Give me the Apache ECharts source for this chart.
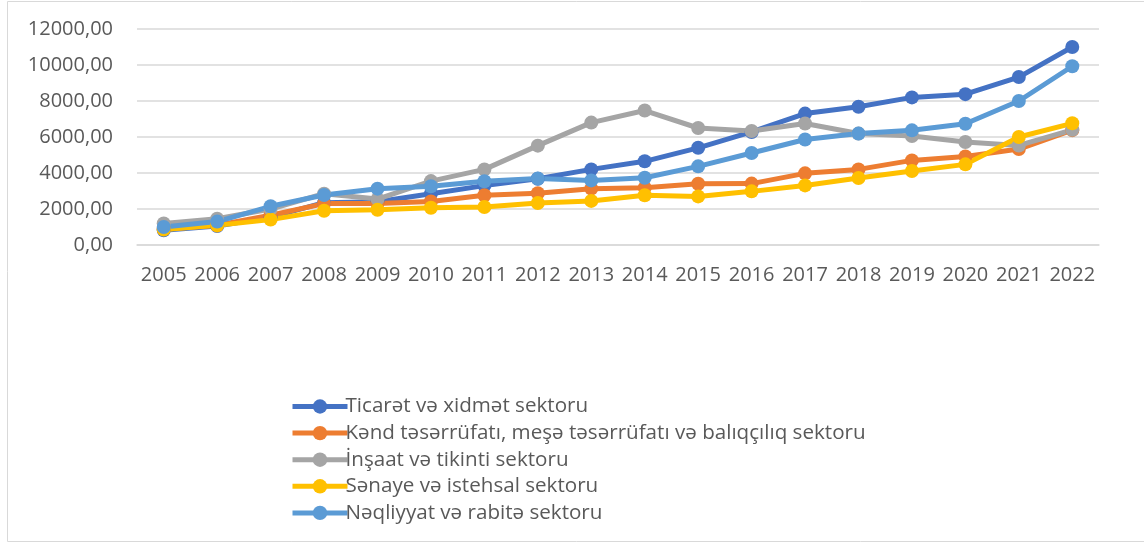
<!DOCTYPE html>
<html>
<head>
<meta charset="utf-8">
<script src="https://cdn.jsdelivr.net/npm/echarts@6/dist/echarts.min.js"></script>
<style>
  html, body { margin: 0; padding: 0; background: #fff; }
  #chart { width: 1144px; height: 543px; }
</style>
</head>
<body>
<div id="chart"></div>
<script>
const years = ['2005','2006','2007','2008','2009','2010','2011','2012','2013','2014','2015','2016','2017','2018','2019','2020','2021','2022']

const seriesNames = [
  'Ticarət və xidmət sektoru',
  'Kənd təsərrüfatı, meşə təsərrüfatı və balıqçılıq sektoru',
  'İnşaat və tikinti sektoru',
  'Sənaye və istehsal sektoru',
  'Nəqliyyat və rabitə sektoru'
]

const ticaret = [820, 1050, 1550, 2350, 2400, 2850, 3300, 3680, 4200, 4650, 5400, 6280, 7300, 7680, 8200, 8380, 9330, 11000]
const kend = [880, 1100, 1650, 2300, 2300, 2420, 2760, 2880, 3130, 3180, 3400, 3410, 3980, 4200, 4700, 4920, 5330, 6380]
const insaat = [1200, 1460, 2000, 2850, 2550, 3550, 4200, 5520, 6800, 7470, 6500, 6330, 6750, 6190, 6050, 5720, 5530, 6400]
const senaye = [860, 1090, 1410, 1900, 1960, 2070, 2110, 2330, 2450, 2760, 2700, 2980, 3310, 3720, 4110, 4480, 6000, 6760]
const neqliyyat = [1000, 1300, 2150, 2780, 3130, 3260, 3540, 3690, 3590, 3740, 4370, 5110, 5860, 6190, 6370, 6740, 8000, 9930]

const colors = ['#4472C4', '#ED7D31', '#A5A5A5', '#FFC000', '#5B9BD5']
const font = '"Open Sans", sans-serif'

const allData = [ticaret, kend, insaat, senaye, neqliyyat]
let series = []
allData.forEach((item, i) => {
  series.push({
    name: seriesNames[i],
    type: 'line',
    data: item,
    symbol: 'circle',
    symbolSize: 14,
    lineStyle: { width: 5, color: colors[i] },
    itemStyle: { color: colors[i] }
  })
})

const myChart = echarts.init(document.getElementById('chart'), null, { renderer: 'canvas' })
const option = {
  animation: false,
  color: colors,
  textStyle: { fontFamily: font },
  graphic: [{
    type: 'rect',
    shape: { x: 7.5, y: 1.5, width: 1150, height: 540 },
    style: { fill: 'none', stroke: '#D9D9D9', lineWidth: 1 },
    silent: true
  }],
  legend: {
    orient: 'vertical',
    left: 285,
    top: 391,
    itemWidth: 55,
    itemHeight: 18,
    itemGap: 5.6,
    lineStyle: { width: 5 },
    textStyle: { fontFamily: font, fontSize: 20.6, color: '#595959', lineHeight: 18, padding: [0, 0, 0, -7] },
    data: seriesNames
  },
  grid: {
    left: 137,
    right: 45,
    top: 29,
    bottom: 298,
    containLabel: false
  },
  xAxis: {
    type: 'category',
    data: years,
    boundaryGap: true,
    axisLine: { show: true, lineStyle: { color: '#D9D9D9', width: 1.5 } },
    axisTick: { show: false },
    axisLabel: { interval: 0, color: '#595959', fontFamily: font, fontSize: 20, margin: 20 }
  },
  yAxis: {
    type: 'value',
    min: 0,
    max: 12000,
    interval: 2000,
    axisLine: { show: false },
    axisTick: { show: false },
    splitLine: { lineStyle: { color: '#D9D9D9', width: 1.5 } },
    axisLabel: {
      color: '#595959',
      fontFamily: font,
      fontSize: 20,
      margin: 24,
      formatter: (v) => v.toFixed(2).replace('.', ',')
    }
  },
  series
}
myChart.setOption(option)
</script>
</body>
</html>
